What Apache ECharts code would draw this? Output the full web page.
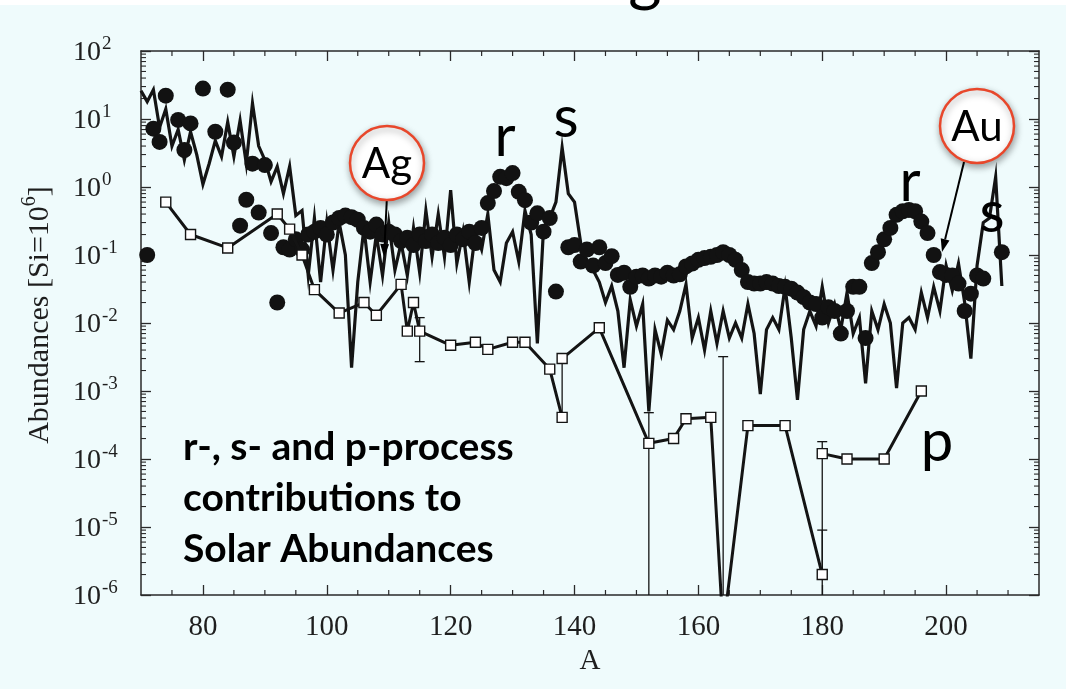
<!DOCTYPE html>
<html>
<head>
<meta charset="utf-8">
<script src="https://cdn.jsdelivr.net/npm/echarts@6/dist/echarts.min.js"></script>
<style>
  html, body { margin: 0; padding: 0; background: #effbfc; }
  #chart { width: 1066px; height: 689px; }
</style>
</head>
<body>
<div id="chart"></div>
<script>
// Solar-system abundances (Si = 1e6) split into s-, r- and p-process parts.

// s-process: one value per mass number, starting at A = 70
const sFirstMass = 70;
const sValues = [
  26, 18, 27, 7.5, 14, 4, 7, 2.5, 6.5, 3,
  1.1, 2.2, 4.8, 2.8, 9, 2.8, 9.5, 2.2, 17, 4,
  2.5, 1.2, 2.0, 0.8, 2.0, 0.38, 0.45, 0.05, 0.35, 0.04,
  0.3, 0.06, 0.3, 0.1, 0.0022, 0.04, 0.25, 0.04, 0.2, 0.05,
  0.3, 0.06, 0.15, 0.05, 0.25, 0.055, 0.45, 0.094, 0.4, 0.094,
  0.9, 0.075, 0.22, 0.04, 0.22, 0.12, 0.4, 0.06, 0.04, 0.15,
  0.22, 0.08, 0.45, 0.2, 0.005, 0.25, 0.35, 0.6, 3.8, 0.8,
  0.6, 0.15, 0.07, 0.06, 0.04, 0.02, 0.035, 0.015, 0.0022, 0.022,
  0.009, 0.019, 0.0005, 0.008, 0.0035, 0.011, 0.008, 0.015, 0.037, 0.006,
  0.012, 0.004, 0.015, 0.005, 0.015, 0.006, 0.01, 0.006, 0.019, 0.007,
  0.0009, 0.008, 0.012, 0.008, 0.034, 0.006, 0.00074, 0.008, 0.015, 0.009,
  0.034, 0.01, 0.019, 0.008, 0.028, 0.007, 0.012, 0.0013, 0.015, 0.008,
  0.019, 0.01, 0.0011, 0.01, 0.012, 0.008, 0.028, 0.012, 0.034, 0.015,
  0.07, 0.03, 0.075, 0.02, 0.003, 0.07, 0.3, 0.35, 1.4, 0.035
];

// r-process residuals: [A, abundance]
const rProcess = [
  [71, 0.10], [72, 7.2], [73, 4.6], [74, 22], [76, 9.7], [77, 3.5], [78, 8.6],
  [80, 28], [82, 6.5], [84, 27], [85, 4.5], [86, 0.27], [87, 0.65], [88, 2.2],
  [89, 0.42], [90, 2.1], [91, 0.21], [92, 0.02], [93, 0.13],
  [94, 0.12], [95, 0.17], [96, 0.12], [97, 0.2], [98, 0.22], [99, 0.25],
  [100, 0.2], [101, 0.3], [102, 0.35], [103, 0.38], [104, 0.36], [105, 0.33],
  [106, 0.25], [107, 0.22], [108, 0.28], [109, 0.2], [110, 0.22], [111, 0.2],
  [112, 0.16], [113, 0.18], [114, 0.14], [115, 0.2], [116, 0.16], [117, 0.2],
  [118, 0.15], [119, 0.18], [120, 0.14], [121, 0.2], [122, 0.17], [123, 0.22],
  [124, 0.15], [125, 0.25], [126, 0.58], [127, 0.87], [128, 1.41], [129, 1.35],
  [130, 1.6], [131, 0.85], [132, 0.64], [133, 0.3], [134, 0.41], [135, 0.22],
  [136, 0.35], [137, 0.029], [139, 0.13], [140, 0.14], [141, 0.08], [142, 0.12],
  [143, 0.07], [144, 0.13], [145, 0.076], [146, 0.096], [147, 0.051], [148, 0.055],
  [149, 0.034], [150, 0.048], [151, 0.05], [152, 0.045], [153, 0.05], [154, 0.048],
  [155, 0.055], [156, 0.05], [157, 0.052], [158, 0.068], [159, 0.075], [160, 0.085],
  [161, 0.09], [162, 0.094], [163, 0.1], [164, 0.11], [165, 0.1], [166, 0.085],
  [167, 0.06], [168, 0.04], [169, 0.038], [170, 0.038], [171, 0.04], [172, 0.038],
  [173, 0.035], [174, 0.034], [175, 0.032], [176, 0.028], [177, 0.024], [178, 0.02],
  [179, 0.019], [180, 0.012], [181, 0.017], [182, 0.015], [183, 0.007], [184, 0.015],
  [185, 0.034], [186, 0.034], [187, 0.006], [188, 0.076], [189, 0.11], [190, 0.17],
  [191, 0.25], [192, 0.39], [193, 0.44], [194, 0.46], [195, 0.44], [196, 0.31],
  [197, 0.21], [198, 0.10], [199, 0.056], [200, 0.051], [201, 0.05], [202, 0.038],
  [203, 0.015], [204, 0.027], [205, 0.05], [206, 0.045], [209, 0.11]
];

// p-process nuclei, drawn as three connected runs
const pRunLight = [
  [74, 0.6], [78, 0.2], [84, 0.127], [92, 0.4], [94, 0.24], [96, 0.10],
  [98, 0.031], [102, 0.014], [106, 0.020], [108, 0.013], [112, 0.037],
  [113, 0.0076], [114, 0.020], [115, 0.0076], [120, 0.0047], [124, 0.0052],
  [126, 0.0041], [130, 0.0052], [132, 0.0052], [136, 0.0021], [138, 0.00041]
];
const pRunMiddle = [
  [138, 0.003], [144, 0.0085], [152, 0.00017], [156, 0.0002], [158, 0.00039],
  [162, 0.00041], [164, 3e-7], [168, 0.00031], [174, 0.00031], [180, 2e-6]
];
const pRunHeavy = [
  [180, 0.00012], [184, 0.0001], [190, 0.0001], [196, 0.001]
];

// p-process uncertainties: [A, low, high, capLow, capHigh]
const pErrors = [
  [115, 0.0027, 0.012, 1, 1],
  [138, 0.00041, 0.003, 0, 0],
  [152, 1e-7, 0.00048, 0, 1],
  [164, 1e-7, 0.0032, 0, 1],
  [180, 1e-7, 0.00018, 0, 1],
  [180, 2e-6, 9e-6, 0, 1]
];

// axis ticks
const xLabelValues = [80, 100, 120, 140, 160, 180, 200];
const xMinorValues = [75, 85, 90, 95, 105, 110, 115, 125, 130, 135, 145, 150, 155,
  165, 170, 175, 185, 190, 195, 205, 210];
const yLabelValues = [1e-6, 1e-5, 1e-4, 1e-3, 1e-2, 1e-1, 1, 10, 100];
const logMantissas = [2, 3, 4, 5, 6, 7, 8, 9];

const X_MIN = 70, X_MAX = 215, Y_MIN = 1e-6, Y_MAX = 100;
const INK = '#141414';
const AXIS = '#2a2a2a';
const LABEL = '#1e1e1e';
const SERIF = '"Liberation Serif", "DejaVu Serif", serif';
const SANS = 'Lato, "Open Sans", sans-serif';

const sSeriesData = sValues.map((v, i) => [sFirstMass + i, v]);

const yMinorData = [];
for (let e = -6; e < 2; e++) {
  logMantissas.forEach(m => yMinorData.push([X_MIN, m * Math.pow(10, e)]));
}

function expOf(v) { return Math.round(Math.log10(v)); }

const chart = echarts.init(document.getElementById('chart'), null, { renderer: 'canvas' });

const axisLineStyle = { color: AXIS, width: 1.5 };

function minorTickX(params, api) {
  const b = api.coord([api.value(0), Y_MIN]);
  const t = api.coord([api.value(0), Y_MAX]);
  const st = { stroke: AXIS, lineWidth: 1.2 };
  return {
    type: 'group', children: [
      { type: 'line', shape: { x1: b[0], y1: b[1], x2: b[0], y2: b[1] - 5 }, style: st },
      { type: 'line', shape: { x1: t[0], y1: t[1], x2: t[0], y2: t[1] + 5 }, style: st }
    ]
  };
}
function minorTickY(params, api) {
  const l = api.coord([X_MIN, api.value(1)]);
  const r = api.coord([X_MAX, api.value(1)]);
  const st = { stroke: AXIS, lineWidth: 1.1 };
  return {
    type: 'group', children: [
      { type: 'line', shape: { x1: l[0], y1: l[1], x2: l[0] + 5, y2: l[1] }, style: st },
      { type: 'line', shape: { x1: r[0], y1: r[1], x2: r[0] - 5, y2: r[1] }, style: st }
    ]
  };
}
function errorBar(params, api) {
  const a = api.value(0);
  const lo = api.coord([a, api.value(1)]);
  const hi = api.coord([a, api.value(2)]);
  const st = { stroke: INK, lineWidth: 1.3 };
  const kids = [{ type: 'line', shape: { x1: lo[0], y1: lo[1], x2: hi[0], y2: hi[1] }, style: st }];
  if (api.value(3)) kids.push({ type: 'line', shape: { x1: lo[0] - 5, y1: lo[1], x2: lo[0] + 5, y2: lo[1] }, style: st });
  if (api.value(4)) kids.push({ type: 'line', shape: { x1: hi[0] - 5, y1: hi[1], x2: hi[0] + 5, y2: hi[1] }, style: st });
  return { type: 'group', children: kids };
}

const pLineStyle = { color: INK, width: 3 };
const pItemStyle = { color: '#ffffff', borderColor: INK, borderWidth: 1.4 };
function pSeries(data) {
  return {
    type: 'line', data: data, symbol: 'rect', symbolSize: 10, showAllSymbol: true,
    lineStyle: pLineStyle, itemStyle: pItemStyle, z: 6, clip: true, animation: false
  };
}

// arrow built from a tail point to a tip point
function arrow(x1, y1, x2, y2) {
  const ang = Math.atan2(y2 - y1, x2 - x1);
  const len = 13, half = 4.5;
  const bx = x2 - len * Math.cos(ang), by = y2 - len * Math.sin(ang);
  const nx = -Math.sin(ang) * half, ny = Math.cos(ang) * half;
  return [
    { type: 'line', z: 100, shape: { x1: x1, y1: y1, x2: bx, y2: by }, style: { stroke: '#000', lineWidth: 2 } },
    { type: 'polygon', z: 100, shape: { points: [[x2, y2], [bx + nx, by + ny], [bx - nx, by - ny]] }, style: { fill: '#000' } }
  ];
}
function badge(cx, cy, label) {
  return [
    { type: 'circle', z: 101, shape: { cx: cx, cy: cy, r: 37 },
      style: { fill: '#ffffff', stroke: '#e8472b', lineWidth: 2.5,
        shadowBlur: 7, shadowColor: 'rgba(0,0,0,0.35)', shadowOffsetX: 1, shadowOffsetY: 3 } },
    { type: 'text', z: 102, x: cx, y: cy + 1,
      style: { text: label, font: '42px ' + SANS, fill: '#000', align: 'center', verticalAlign: 'middle' } }
  ];
}
// text placed by its baseline; the top of the line box sits ~0.835 em above it
function textAt(x, baseline, str, font, size, align) {
  return { type: 'text', z: 100, x: x, y: baseline - 0.835 * size,
    style: { text: str, font: font, fill: '#000', align: align || 'left', verticalAlign: 'top' } };
}
function letter(x, baseline, ch) {
  return textAt(x, baseline, ch, '58px ' + SANS, 58, 'center');
}

const option = {
  backgroundColor: '#effbfc',
  animation: false,
  grid: { left: 141, right: 27, top: 51, bottom: 94, containLabel: false, outerBoundsMode: 'none' },
  xAxis: [{
    type: 'value', min: X_MIN, max: X_MAX, position: 'bottom',
    name: 'A', nameLocation: 'middle', nameGap: 52,
    nameTextStyle: { fontFamily: SERIF, fontSize: 29, color: LABEL },
    axisLine: { show: true, lineStyle: axisLineStyle },
    axisTick: { show: true, inside: true, length: 10, customValues: xLabelValues, lineStyle: { color: AXIS, width: 1.3 } },
    axisLabel: { show: true, customValues: xLabelValues, margin: 18, fontFamily: SERIF, fontSize: 29, color: LABEL },
    splitLine: { show: false }
  }, {
    type: 'value', min: X_MIN, max: X_MAX, position: 'top',
    axisLine: { show: true, lineStyle: axisLineStyle },
    axisTick: { show: true, inside: true, length: 10, customValues: xLabelValues, lineStyle: { color: AXIS, width: 1.3 } },
    axisLabel: { show: false },
    splitLine: { show: false }
  }],
  yAxis: [{
    type: 'log', logBase: 10, min: Y_MIN, max: Y_MAX, position: 'left',
    name: '{n|Abundances [Si=10}{s|6}{n|]}', nameLocation: 'middle', nameGap: 86, nameRotate: 90,
    nameTextStyle: {
      fontFamily: SERIF, fontSize: 30, color: LABEL, padding: [0, 0, 0, 16],
      rich: {
        n: { fontFamily: SERIF, fontSize: 30, color: LABEL, verticalAlign: 'bottom', lineHeight: 35 },
        s: { fontFamily: SERIF, fontSize: 20, color: LABEL, verticalAlign: 'top', lineHeight: 35 }
      }
    },
    axisLine: { show: true, lineStyle: axisLineStyle },
    axisTick: { show: true, inside: true, length: 10, customValues: yLabelValues, lineStyle: { color: AXIS, width: 1.3 } },
    axisLabel: {
      show: true, customValues: yLabelValues, margin: 68, align: 'left',
      formatter: v => '{b|10}{e|' + expOf(v) + '}',
      rich: {
        b: { fontFamily: SERIF, fontSize: 28, color: LABEL, verticalAlign: 'bottom', lineHeight: 32 },
        e: { fontFamily: SERIF, fontSize: 19, color: LABEL, verticalAlign: 'top', lineHeight: 32, padding: [0, 0, 8, 1] }
      }
    },
    splitLine: { show: false }
  }, {
    type: 'log', logBase: 10, min: Y_MIN, max: Y_MAX, position: 'right',
    axisLine: { show: true, lineStyle: axisLineStyle },
    axisTick: { show: true, inside: true, length: 10, customValues: yLabelValues, lineStyle: { color: AXIS, width: 1.3 } },
    axisLabel: { show: false },
    splitLine: { show: false }
  }],
  series: [
    {
      type: 'custom', name: 'x minor ticks', renderItem: minorTickX, clip: false, silent: true,
      data: xMinorValues.map(v => [v, 1]), encode: { x: 0, y: 1 }, z: 1
    },
    {
      type: 'custom', name: 'y minor ticks', renderItem: minorTickY, clip: false, silent: true,
      data: yMinorData, encode: { x: 0, y: 1 }, z: 1
    },
    {
      type: 'line', name: 's-process', data: sSeriesData, showSymbol: false, symbol: 'none',
      lineStyle: { color: INK, width: 3.2, join: 'miter' }, clip: true, z: 3
    },
    {
      type: 'scatter', name: 'r-process', data: rProcess, symbol: 'circle', symbolSize: 16,
      itemStyle: { color: '#121212', opacity: 1 }, z: 4
    },
    {
      type: 'custom', name: 'p-process errors', renderItem: errorBar, clip: true, silent: true,
      data: pErrors, encode: { x: 0, y: [1, 2] }, z: 5
    },
    pSeries(pRunLight),
    pSeries(pRunMiddle),
    pSeries(pRunHeavy)
  ],
  graphic: [
    { type: 'rect', z: 99, shape: { x: 0, y: 0, width: 1066, height: 5 }, style: { fill: '#ffffff' } },
    textAt(645, 0, 'g', '64px ' + SANS, 64, 'center'),
    ...arrow(387, 196, 384, 257),
    ...badge(387, 163, 'Ag'),
    ...arrow(964, 162, 942, 252),
    ...badge(977, 126, 'Au'),
    letter(505, 157, 'r'),
    letter(566, 138, 's'),
    letter(910, 202, 'r'),
    letter(992, 233, 's'),
    letter(937, 462, 'p'),
    textAt(183, 460, 'r-, s- and p-process', 'bold 39px ' + SANS, 39),
    textAt(183, 511, 'contributions to', 'bold 39px ' + SANS, 39),
    textAt(183, 562, 'Solar Abundances', 'bold 39px ' + SANS, 39)
  ]
};

chart.setOption(option);
</script>
</body>
</html>
